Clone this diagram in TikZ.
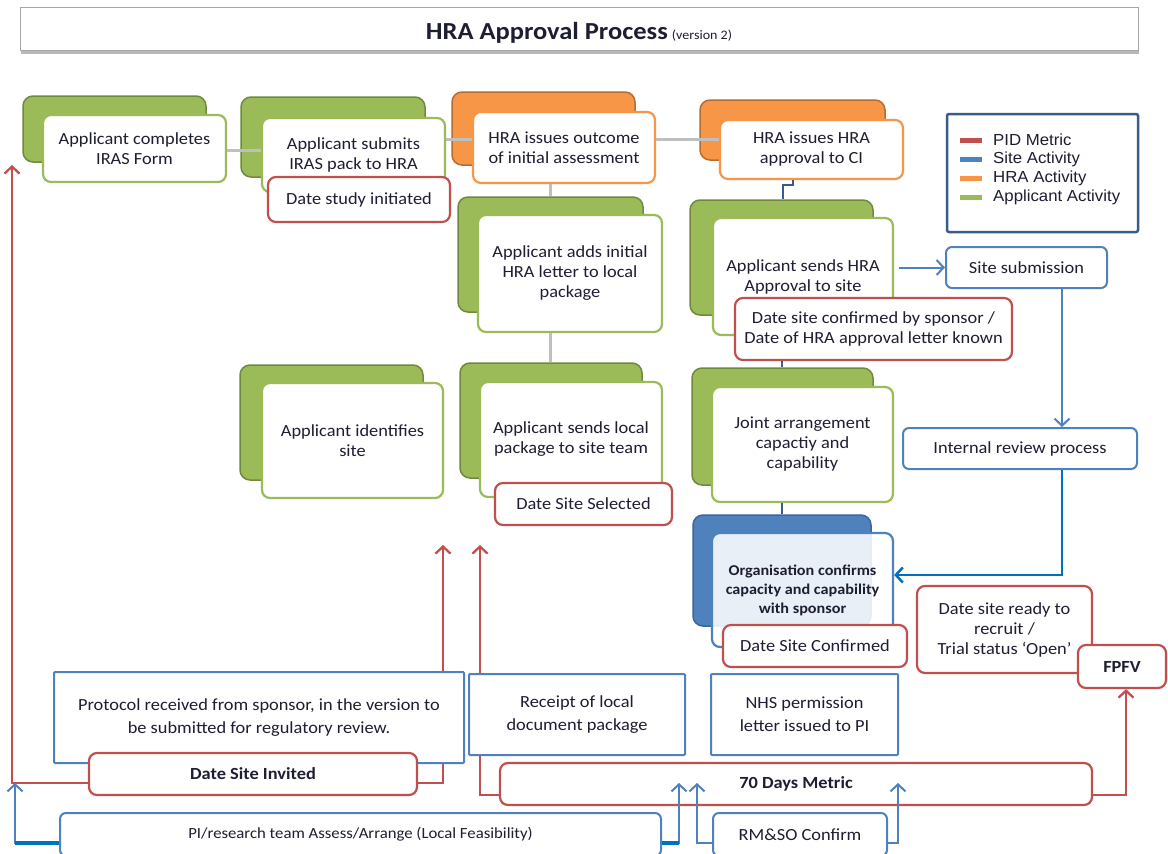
\documentclass[tikz,border=0pt]{standalone}
\usepackage{fontspec}
\setmainfont{Carlito}[FakeStretch=1.08]
\newfontfamily\legendfont{Liberation Sans}[FakeStretch=1.05]
\usetikzlibrary{arrows.meta}
\definecolor{gfill}{HTML}{9BBB59}
\definecolor{gborder}{HTML}{71893F}
\definecolor{ofill}{HTML}{F79646}
\definecolor{oborder}{HTML}{B66D31}
\definecolor{bfill}{HTML}{4F81BD}
\definecolor{bborder}{HTML}{3A6699}
\definecolor{redc}{HTML}{C0504D}
\definecolor{bluec}{HTML}{4F81BD}
\definecolor{dblue}{HTML}{385D8A}
\definecolor{bright}{HTML}{0070C0}
\definecolor{grayc}{HTML}{BFBFBF}
\definecolor{txt}{HTML}{1E1E32}
\pgfdeclarelayer{paper}
\pgfdeclarelayer{lines}
\pgfsetlayers{paper,lines,main}
\newcommand{\bx}[7]{\node[#1, minimum width={#5-#3}, minimum height={#6-#4}] (#2) at ({(#3+#5)/2},{(#4+#6)/2}) {#7};}
\tikzset{
  base/.style={inner sep=0pt, align=center, text=txt, font=\fontsize{17}{20}\selectfont},
  titlebox/.style={base, draw=gray!70, fill=white, line width=1pt},
  gback/.style={base, draw=gborder, fill=gfill, line width=1.5pt, rounded corners=10pt},
  gfront/.style={base, draw=gfill, fill=white, line width=2.2pt, rounded corners=8pt},
  oback/.style={base, draw=oborder, fill=ofill, line width=1.5pt, rounded corners=10pt},
  ofront/.style={base, draw=ofill, fill=white, line width=2.2pt, rounded corners=8pt},
  bback/.style={base, draw=bborder, fill=bfill, line width=1.5pt, rounded corners=10pt},
  bfront/.style={base, draw=bfill, fill=white, fill opacity=0.88, text opacity=1, line width=2.2pt, rounded corners=8pt, font=\fontsize{15}{19}\selectfont\bfseries},
  metric/.style={base, draw=redc, fill=white, line width=2.2pt, rounded corners=8pt},
  sitebox/.style={base, draw=bluec, fill=white, line width=2pt, rounded corners=6pt},
  sitesq/.style={base, draw=bluec, fill=white, line width=2pt, rounded corners=1pt},
  legendbox/.style={draw=dblue, fill=white, line width=2.5pt, rounded corners=2pt, inner sep=0pt},
  legtext/.style={inner sep=0pt, anchor=west, text=txt, font=\legendfont\fontsize{16}{18}\selectfont},
  legkey/.style={inner sep=0pt, minimum width=22pt, minimum height=5pt},
  gcon/.style={draw=grayc, line width=3pt},
  bcon/.style={draw=dblue, line width=1.6pt},
  barb/.style={-{Straight Barb[length=7pt,width=15pt]}},
  barrow/.style={draw=bluec, line width=2pt, barb},
  bigarrow/.style={draw=bright, line width=2.5pt, barb},
  rarrow/.style={draw=redc, line width=2.3pt, barb},
  bstub/.style={draw=bright, line width=3.5pt},
}
\begin{document}
\begin{tikzpicture}[x=1pt,y=-1pt]
\useasboundingbox (0,0) rectangle (1168,854);
\begin{pgfonlayer}{paper}
\fill[white] (0,0) rectangle (1168,854);
\fill[gray!55] (21,12) rectangle (1139,54);
\end{pgfonlayer}

% title
\bx{titlebox}{title}{20}{7}{1138}{50}{\raisebox{-11pt}[0pt][0pt]{{\fontsize{24.5}{28}\selectfont\bfseries HRA Approval Process} {\fontsize{13}{14}\selectfont (version 2)}}}

% back boxes
\bx{gback}{b1}{23}{96}{206}{162}{}
\bx{gback}{b2}{241}{97}{425}{177}{}
\bx{oback}{b3}{452}{92}{635}{165}{}
\bx{oback}{b4}{700}{100}{885}{160}{}
\bx{gback}{b5}{458}{197}{643}{312}{}
\bx{gback}{b6}{690}{200}{873}{315}{}
\bx{gback}{b7}{240}{365}{423}{480}{}
\bx{gback}{b8}{460}{363}{642}{478}{}
\bx{gback}{b9}{692}{368}{873}{485}{}
\bx{bback}{b10}{693}{515}{871}{626}{}

% front boxes
\bx{gfront}{f1}{43}{115}{226}{182}{Applicant completes\\IRAS Form}
\bx{gfront}{f2}{262}{118}{445}{192}{Applicant submits\\IRAS pack to HRA}
\bx{ofront}{f3}{473}{112}{655}{183}{HRA issues outcome\\of initial assessment}
\bx{ofront}{f4}{720}{120}{903}{179}{HRA issues HRA\\approval to CI}
\bx{gfront}{f5}{478}{215}{662}{332}{Applicant adds initial\\HRA letter to local\\package}
\bx{gfront}{f6}{713}{218}{893}{335}{Applicant sends HRA\\Approval to site}
\bx{gfront}{f7}{262}{383}{443}{498}{Applicant identifies\\site}
\bx{gfront}{f8}{480}{382}{662}{497}{Applicant sends local\\package to site team}
\bx{gfront}{f9}{712}{387}{893}{502}{Joint arrangement\\capactiy and\\capability}
\bx{bfront}{f10}{712}{533}{893}{647}{Organisation confirms\\capacity and capability\\with sponsor}

% site activity boxes
\bx{sitebox}{site}{946}{247}{1107}{288}{Site submission}
\bx{sitebox}{irev}{903}{428}{1137}{469}{Internal review process}
\bx{sitesq}{proto}{54}{672}{464}{763}{Protocol received from sponsor, in the version to\\[3pt]be submitted for regulatory review.}
\bx{sitesq}{receipt}{469}{674}{685}{755}{Receipt of local\\[3pt]document package}
\bx{sitesq}{nhs}{711}{674}{898}{755}{NHS permission\\[3pt]letter issued to PI}
\bx{sitebox}{pi}{60}{813}{661}{856}{\fontsize{15.5}{18}\selectfont PI/research team Assess/Arrange (Local Feasibility)}
\bx{sitebox}{rmso}{713}{813}{887}{856}{RM\&SO Confirm}

% metric boxes
\bx{metric}{d1}{268}{177}{450}{222}{Date study initiated}
\bx{metric}{d2}{735}{298}{1012}{360}{Date site confirmed by sponsor /\\Date of HRA approval letter known}
\bx{metric}{d3}{495}{483}{672}{525}{Date Site Selected}
\bx{metric}{d4}{723}{625}{907}{667}{Date Site Confirmed}
\bx{metric}{d5}{917}{586}{1092}{673}{Date site ready to\\recruit /\\Trial status `Open'}
\bx{metric}{fpfv}{1078}{645}{1166}{688}{\bfseries FPFV}
\bx{metric}{d6}{89}{753}{417}{795}{\bfseries Date Site Invited}
\bx{metric}{d7}{500}{763}{1092}{805}{\bfseries 70 Days Metric}

% legend
\bx{legendbox}{legend}{947}{114}{1138}{232}{}
\node[legkey, fill=redc] (k1) at (971,140) {};
\node[legkey, fill=bluec] (k2) at (971,159) {};
\node[legkey, fill=ofill] (k3) at (971,178) {};
\node[legkey, fill=gfill] (k4) at (971,197) {};
\node[legtext] (l1) at (993,140) {PID Metric};
\node[legtext] (l2) at (993,159) {Site Activity};
\node[legtext] (l3) at (993,178) {HRA Activity};
\node[legtext] (l4) at (993,197) {Applicant Activity};

% gray connectors
\draw[gcon] (f1.east |- 0,150) -- (f2.west |- 0,150);
\draw[gcon] (f2.east |- 0,139) -- (f3.west |- 0,139);
\draw[gcon] (f3.east |- 0,139) -- (f4.west |- 0,139);
\draw[gcon] (f3.south -| 550,0) -- (b5.north -| 550,0);
\draw[gcon] (f5.south -| 550,0) -- (b8.north -| 550,0);

% blue connectors
\draw[bcon] (f4.south -| 793,0) -- ++(0,5) -| (b6.north -| 783,0);
\draw[bcon] (d2.south -| 782,0) -- (b9.north -| 782,0);
\draw[bcon] (f9.south -| 782,0) -- (b10.north -| 782,0);
\draw[barrow] ([xshift=5]f6.east |- site.west) -- (site.west);
\draw[barrow] (site.south -| 1062,0) -- (irev.north -| 1062,0);
\draw[bigarrow] (irev.south -| 1062,0) |- (f10.east |- 0,575);

% red metric lines (behind boxes)
\coordinate (ra) at (12,165);
\coordinate (rb) at (443,545);
\coordinate (rc) at (480,545);
\begin{pgfonlayer}{lines}
\draw[rarrow] (d6.west |- 0,783) -| (ra);
\draw[rarrow] (d6.east |- 0,783) -| (rb);
\draw[rarrow] (d7.west |- 0,795) -| (rc);
\draw[rarrow] (d7.east |- 0,795) -| (fpfv.south -| 1126,0);
\end{pgfonlayer}

% blue arrows from the bottom
\coordinate (ba) at (15,783);
\coordinate (bb) at (679,783);
\coordinate (bc) at (697,783);
\coordinate (bd) at (898,783);
\draw[barrow] (pi.west |- 0,843) -| (ba);
\draw[barrow] (pi.east |- 0,843) -| (bb);
\draw[barrow] (rmso.west |- 0,843) -| (bc);
\draw[barrow] (rmso.east |- 0,843) -| (bd);
\draw[bstub] (pi.west |- 0,843) -- (ba |- 0,843);
\draw[bstub] (pi.east |- 0,843) -- (bb |- 0,843);
\end{tikzpicture}
\end{document}
